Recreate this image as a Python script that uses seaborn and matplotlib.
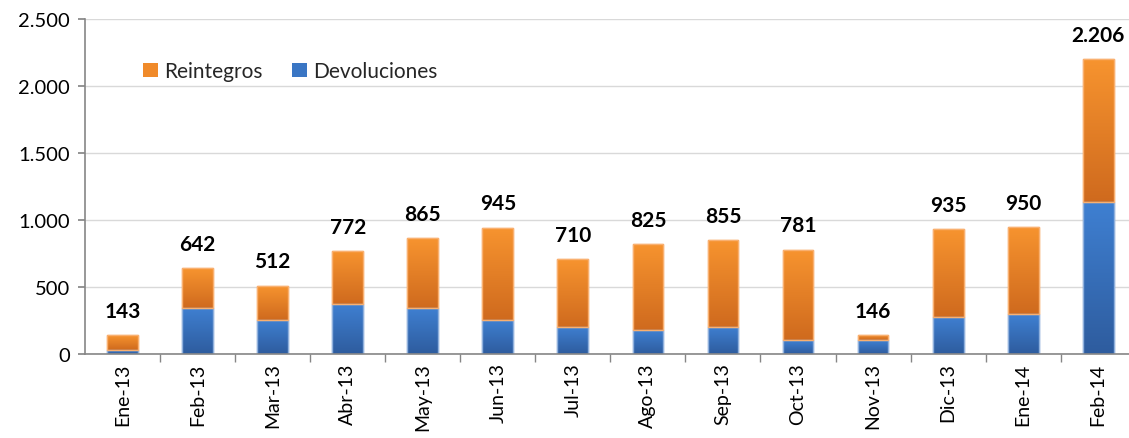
import numpy as np
import pandas as pd
import matplotlib
matplotlib.use("Agg")
import matplotlib.pyplot as plt
import seaborn as sns
from matplotlib.patches import Patch
from matplotlib.ticker import FuncFormatter, FixedLocator
from matplotlib.colors import LinearSegmentedColormap

months = ["Ene-13", "Feb-13", "Mar-13", "Abr-13", "May-13", "Jun-13", "Jul-13",
          "Ago-13", "Sep-13", "Oct-13", "Nov-13", "Dic-13", "Ene-14", "Feb-14"]
totales = [143, 642, 512, 772, 865, 945, 710, 825, 855, 781, 146, 935, 950, 2206]
devoluciones = [32, 346, 256, 375, 346, 256, 204, 177, 204, 102, 102, 281, 298, 1137]
reintegros = [t - d for t, d in zip(totales, devoluciones)]

sns.set_theme(style="white")
plt.rcParams['font.family'] = ['Lato', 'DejaVu Sans']

df = pd.DataFrame({"mes": months, "dev": devoluciones, "rei": reintegros, "tot": totales})

fig = plt.figure(figsize=(11.29, 4.39), dpi=100)
ax = fig.add_axes([0.0753, 0.191, 0.9247, 0.763])

BLUE = "#3A76C4"
ORANGE = "#F08A2A"

sns.barplot(data=df, x="mes", y="dev", color=BLUE, width=0.41, ax=ax,
            edgecolor="#8FB0DC", linewidth=1, saturation=1)
sns.barplot(data=df, x="mes", y="rei", bottom=df["dev"], color=ORANGE, width=0.41, ax=ax,
            edgecolor="#F9B070", linewidth=1, saturation=1)

# gradient fill on each bar
cm_blue = LinearSegmentedColormap.from_list("b", ["#2E5C9E", "#3F80D2"])
cm_orange = LinearSegmentedColormap.from_list("o", ["#CF6A1E", "#F7942F"])
n = len(months)
grad = np.linspace(0, 1, 256).reshape(-1, 1)
for i, p in enumerate(list(ax.patches)):
    x0, y0 = p.get_x(), p.get_y()
    w, h = p.get_width(), p.get_height()
    cmap = cm_blue if i < n else cm_orange
    im = ax.imshow(grad, extent=[x0, x0 + w, y0, y0 + h], origin="lower",
                   cmap=cmap, aspect="auto", zorder=p.get_zorder() + 0.1)
    im.set_clip_path(p)
    ax.add_patch(plt.Rectangle((x0, y0), w, h, fill=False,
                               edgecolor=p.get_edgecolor(), linewidth=1,
                               zorder=p.get_zorder() + 0.2))

ax.set_xlim(-0.5, 13.41)
ax.set_ylim(0, 2500)
ax.set_yticks([0, 500, 1000, 1500, 2000, 2500])
ax.yaxis.set_major_formatter(FuncFormatter(lambda v, _: f"{int(v):,}".replace(",", ".")))
ax.grid(axis="y", color="#D9D9D9", linewidth=1)
ax.set_axisbelow(True)
ax.set_xlabel("")
ax.set_ylabel("")

for s in ["top", "right"]:
    ax.spines[s].set_visible(False)
for s in ["left", "bottom"]:
    ax.spines[s].set_color("#868686")
    ax.spines[s].set_linewidth(1.2)

ax.tick_params(axis="y", labelsize=14.5, length=5, color="#868686", left=True,
               labelcolor="#000000", pad=6)
ax.tick_params(axis="x", which="major", length=0, labelsize=14, rotation=90, pad=6,
               labelcolor="#000000")
ax.xaxis.set_minor_locator(FixedLocator(np.arange(0.5, 13.5, 1)))
ax.tick_params(axis="x", which="minor", length=6, color="#868686", bottom=True, width=1)

for i, t in enumerate(totales):
    ax.text(i, t + 105, f"{t:,}".replace(",", "."), ha="center", va="bottom",
            fontsize=15, fontweight="bold", color="#000000")

handles = [Patch(facecolor=ORANGE, edgecolor="none"), Patch(facecolor=BLUE, edgecolor="none")]
ax.legend(handles, ["Reintegros", "Devoluciones"], loc="upper left",
          bbox_to_anchor=(0.038, 0.93), ncol=2, frameon=False, fontsize=15,
          handlelength=0.7, handleheight=0.7, handletextpad=0.3, columnspacing=1.4)

fig.savefig("out.png", dpi=100)
